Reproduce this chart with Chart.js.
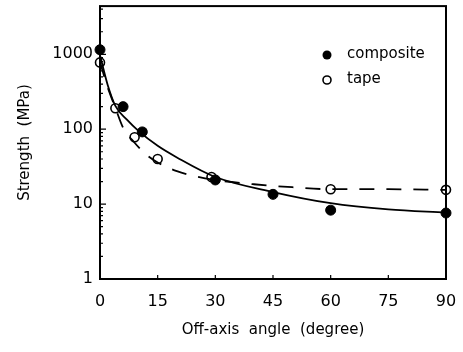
<!DOCTYPE html>
<html>
<head>
<meta charset="utf-8">
<script src="https://cdn.jsdelivr.net/npm/chart.js@4/dist/chart.umd.min.js"></script>
<style>
  html, body { margin: 0; padding: 0; background: #fff; }
  #wrap { width: 463px; height: 352px; }
</style>
</head>
<body>
<div id="wrap"><canvas id="strength-chart" width="463" height="352"></canvas></div>
<script>
// data
const angleTicks = [0, 15, 30, 45, 60, 75, 90];
const strengthTicks = [1, 10, 100, 1000];

const compositeAngle = [0, 6, 11, 30, 45, 60, 90];
const compositeStrength = [1150, 200, 92, 21, 13.5, 8.3, 7.6];

const tapeAngle = [0, 4, 9, 15, 29, 60, 90];
const tapeStrength = [780, 190, 78, 40, 23, 15.8, 15.5];

// fitted curves (traced)
const compositeFitAngle = [0, 2, 4, 7, 10, 15, 20, 30, 45, 60, 75, 90];
const compositeFitStrength = [970, 390, 205, 134, 95, 60, 42, 23, 14.5, 10.3, 8.5, 7.7];

const tapeFitAngle = [0, 2, 4, 6, 9, 12, 15, 20, 25, 30, 40, 50, 60, 75, 90];
const tapeFitStrength = [783, 363, 193, 105, 66, 46, 36, 27.5, 23.4, 21, 18.4, 16.8, 15.8, 15.8, 15.5];

const pts = (xs, ys) => xs.map((x, i) => ({x: x, y: ys[i]}));

const FONT = '"DejaVu Sans", sans-serif';

// frame, inside ticks and legend
const framePlugin = {
  id: 'frame',
  afterDraw(chart) {
    const c = chart.ctx;
    const a = chart.chartArea;
    const xs = chart.scales.x, ys = chart.scales.y;
    c.save();
    c.strokeStyle = '#000';
    c.lineWidth = 2;
    c.strokeRect(a.left, a.top, a.right - a.left, a.bottom - a.top);

    c.lineWidth = 1.2;
    c.beginPath();
    for (let d = 1; d <= 1000; d *= 10) {
      for (let m = 1; m < 10; m++) {
        const v = d * m;
        if (v > ys.max) break;
        const py = ys.getPixelForValue(v);
        const len = m === 1 ? 6 : 3;
        c.moveTo(a.left, py);
        c.lineTo(a.left + len, py);
      }
    }
    angleTicks.forEach(t => {
      const px = xs.getPixelForValue(t);
      c.moveTo(px, a.bottom);
      c.lineTo(px, a.bottom - 4);
    });
    c.stroke();

    // legend
    const lx = 327, ly1 = 55, ly2 = 80;
    c.fillStyle = '#000';
    c.beginPath();
    c.arc(lx, ly1, 4.5, 0, Math.PI * 2);
    c.fill();
    c.beginPath();
    c.arc(lx, ly2, 4, 0, Math.PI * 2);
    c.lineWidth = 1.6;
    c.stroke();
    c.font = '15px ' + FONT;
    c.textBaseline = 'middle';
    c.textAlign = 'left';
    c.fillText('composite', 347, ly1 - 1);
    c.fillText('tape', 347, ly2 - 1);
    c.restore();
  }
};

const ctx = document.getElementById('strength-chart').getContext('2d');

const strengthChart = new Chart(ctx, {
  type: 'scatter',
  data: {
    datasets: [
      {
        label: 'composite fit',
        type: 'line',
        data: pts(compositeFitAngle, compositeFitStrength),
        borderColor: '#000',
        borderWidth: 1.8,
        pointRadius: 0,
        cubicInterpolationMode: 'monotone',
        fill: false
      },
      {
        label: 'tape fit',
        type: 'line',
        data: pts(tapeFitAngle, tapeFitStrength),
        borderColor: '#000',
        borderWidth: 1.8,
        borderDash: [15, 12],
        pointRadius: 0,
        cubicInterpolationMode: 'monotone',
        fill: false
      },
      {
        label: 'composite',
        data: pts(compositeAngle, compositeStrength),
        backgroundColor: '#000',
        borderColor: '#000',
        pointRadius: 5,
        clip: false
      },
      {
        label: 'tape',
        data: pts(tapeAngle, tapeStrength),
        backgroundColor: '#fff',
        borderColor: '#000',
        borderWidth: 1.6,
        pointRadius: 4.5,
        clip: false
      }
    ]
  },
  options: {
    responsive: false,
    animation: { duration: 0 },
    layout: { padding: { top: 6, right: 17, left: 0, bottom: 0 } },
    plugins: {
      legend: { display: false },
      tooltip: { enabled: false }
    },
    scales: {
      x: {
        type: 'linear',
        min: 0,
        max: 90,
        afterFit: s => { s.height = 73; s.paddingLeft = 0; s.paddingRight = 0; },
        afterBuildTicks: s => { s.ticks = angleTicks.map(v => ({value: v})); },
        grid: { display: false, drawTicks: false },
        border: { display: false },
        ticks: { color: '#000', padding: 13, maxRotation: 0, font: { family: FONT, size: 16 } },
        title: {
          display: true,
          text: 'Off-axis  angle  (degree)',
          color: '#000',
          font: { family: FONT, size: 15 },
          padding: { bottom: 13 }
        }
      },
      y: {
        type: 'logarithmic',
        min: 1,
        max: 4400,
        afterFit: s => { s.width = 100; s.paddingTop = 0; s.paddingBottom = 0; },
        afterBuildTicks: s => { s.ticks = strengthTicks.map(v => ({value: v})); },
        grid: { display: false, drawTicks: false },
        border: { display: false },
        ticks: {
          color: '#000',
          padding: 7,
          font: { family: FONT, size: 16 },
          callback: v => String(v)
        },
        title: {
          display: true,
          text: 'Strength  (MPa)',
          color: '#000',
          font: { family: FONT, size: 15 },
          padding: { top: 16 }
        }
      }
    }
  },
  plugins: [framePlugin]
});
</script>
</body>
</html>
